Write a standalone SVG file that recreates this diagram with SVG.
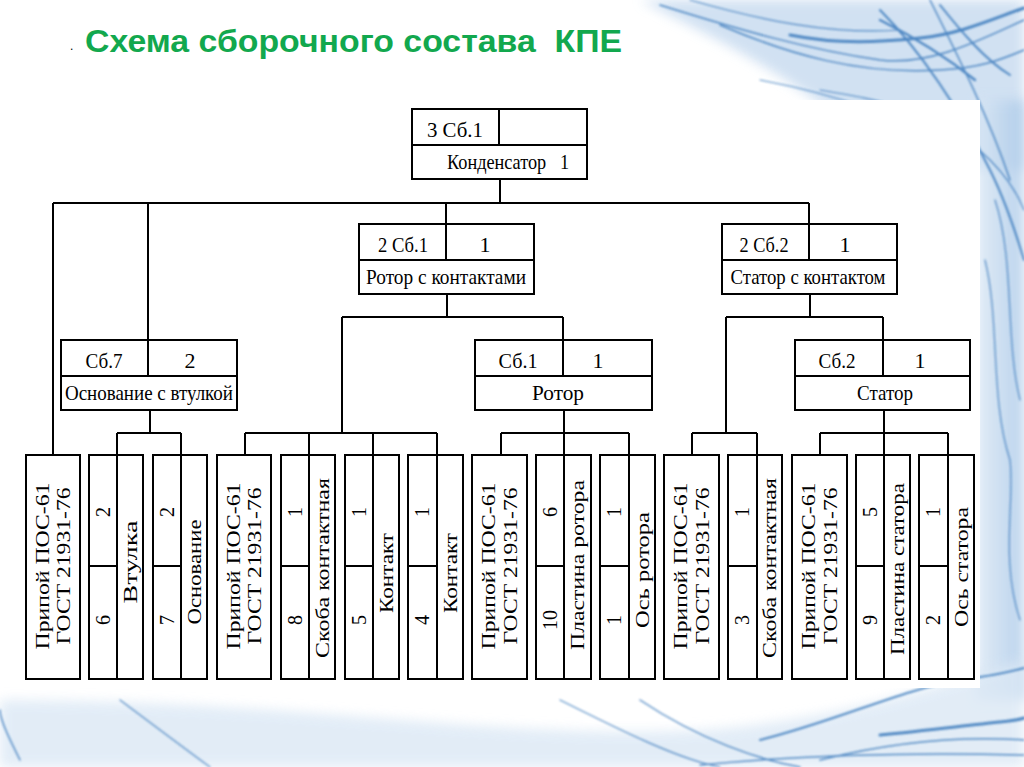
<svg xmlns="http://www.w3.org/2000/svg" width="1024" height="767" viewBox="0 0 1024 767">
<defs>
<style>
.b{fill:#fff;stroke:#000;stroke-width:2}
.l{fill:none;stroke:#000;stroke-width:2}
.t{font-family:"Liberation Serif","Times New Roman",serif;font-size:22px;fill:#000;text-anchor:middle}
.r{font-family:"Liberation Serif","Times New Roman",serif;font-size:19px;fill:#000;text-anchor:middle;dominant-baseline:central}
.n{font-family:"Liberation Serif","Times New Roman",serif;font-size:20px;fill:#000;text-anchor:middle;dominant-baseline:central}
.w{fill:none;stroke:#2f72b8;stroke-linecap:round}
</style>
<filter id="bl" x="-10%" y="-10%" width="120%" height="120%"><feGaussianBlur stdDeviation="1.2"/></filter>
<filter id="bl2" x="-20%" y="-20%" width="140%" height="140%"><feGaussianBlur stdDeviation="6"/></filter>
<linearGradient id="rg" x1="0" y1="0" x2="1" y2="0"><stop offset="0" stop-color="#dbe8f5"/><stop offset="1" stop-color="#a9c8e8"/></linearGradient>
</defs>
<rect width="1024" height="767" fill="#fff"/>
<g id="background">
<path d="M640,0 C720,40 820,90 900,170 L1024,170 L1024,0 Z" fill="#c9dcf0" filter="url(#bl2)" opacity="0.85"/>
<rect x="976" y="100" width="48" height="600" fill="url(#rg)" filter="url(#bl2)" opacity="0.8"/>
<path d="M0,767 L0,700 C300,700 500,740 700,730 C850,720 950,680 1024,660 L1024,767 Z" fill="#dbe8f5" filter="url(#bl2)" opacity="0.8"/>
<g filter="url(#bl)" opacity="0.8">
<path class="w" stroke-width="1.5" d="M660,5 C740,30 810,50 880,60 C930,66 980,40 1024,20"/>
<path class="w" stroke-width="3" stroke="#1c4677" d="M790,35 C840,45 880,42 920,38 C960,34 990,20 1024,8"/>
<path class="w" stroke-width="2.5" stroke="#1c4677" d="M880,20 C920,40 950,60 975,80"/>
<path class="w" stroke-width="2" stroke="#24558f" d="M940,5 C960,30 985,60 1010,75"/>
<path class="w" stroke-width="1.5" d="M720,25 C790,55 860,75 940,70 C980,68 1000,60 1024,50"/>
<path class="w" stroke-width="1.2" d="M690,0 C760,20 830,35 900,30"/>
<path class="w" stroke-width="2" d="M880,10 C920,50 960,110 990,170 C1005,200 1015,230 1024,260"/>
<path class="w" stroke-width="1.5" d="M930,0 C960,60 990,120 1010,180"/>
<path class="w" stroke-width="1.2" d="M820,90 C880,100 940,110 990,160 C1010,180 1020,200 1024,210"/>
<path class="w" stroke-width="1.2" d="M760,80 C840,95 910,120 960,150"/>
<path class="w" stroke-width="1.2" d="M985,260 C1000,320 990,400 1010,460 C1015,500 1000,560 1020,620"/>
<path class="w" stroke-width="1.2" d="M995,200 C1015,260 1005,340 1020,400"/>
<path class="w" stroke-width="1.5" d="M20,760 C10,740 0,720 0,710"/>
<path class="w" stroke-width="1.2" d="M120,700 C160,730 200,760 210,767"/>
<path class="w" stroke-width="1.2" d="M560,700 C620,730 680,760 720,767"/>
<path class="w" stroke-width="1.5" d="M640,700 C700,740 760,760 800,767"/>
<path class="w" stroke-width="2" d="M760,740 C840,720 900,690 960,680 C990,676 1010,672 1024,668"/>
<path class="w" stroke-width="3" stroke="#1c4677" d="M880,735 C930,730 970,725 1000,722 C1010,721 1018,720 1024,718"/>
<path class="w" stroke-width="1.5" d="M820,760 C880,745 950,735 1024,740"/>
<path class="w" stroke-width="1.5" d="M700,765 C800,755 900,752 1024,755"/>
</g>
</g>
<rect id="panel" x="18" y="100" width="962" height="588" fill="#fff"/>
<g id="title">
<text x="70" y="50" font-family="Liberation Sans, Arial, sans-serif" font-size="12" fill="#000">.</text>
<text x="85" y="52" font-family="Liberation Sans, Arial, sans-serif" font-size="31" font-weight="bold" fill="#12a84e" textLength="537" lengthAdjust="spacingAndGlyphs" xml:space="preserve">Схема сборочного состава  КПЕ</text>
</g>
<g id="connectors" class="l">
<path class="l" d="M500,179V203M53,203H809M53,203V455M148,203V340M446,203V224M809,203V224"/>
<path class="l" d="M447,294V317M342,317H563M342,317V433M563,317V340"/>
<path class="l" d="M810,294V317M726,317H883M726,317V433M883,317V340"/>
<path class="l" d="M150,410V433M117,433H181M117,433V455M181,433V455"/>
<path class="l" d="M245,433H437M245,433V455M309,433V455M373,433V455M437,433V455"/>
<path class="l" d="M564,410V433M501,433H629M501,433V455M564,433V455M629,433V455"/>
<path class="l" d="M692,433H757M692,433V455M757,433V455"/>
<path class="l" d="M884,410V433M820,433H948M820,433V455M884,433V455M948,433V455"/>
</g>
<g id="n-kondensator">
<rect class="b" x="412" y="109" width="175" height="70"/>
<path class="l" d="M412,145H587M499,109V145"/>
<text class="t" x="455" y="137" textLength="56" lengthAdjust="spacingAndGlyphs">3 Сб.1</text>
<text class="t" x="447" y="169" style="text-anchor:start" textLength="122" lengthAdjust="spacingAndGlyphs" xml:space="preserve">Конденсатор   1</text>
</g>
<g id="n-rotor-kont">
<rect class="b" x="359" y="224" width="175" height="70"/>
<path class="l" d="M359,260H534M446,224V260"/>
<text class="t" x="403" y="252" textLength="50" lengthAdjust="spacingAndGlyphs">2 Сб.1</text>
<text class="t" x="485" y="252">1</text>
<text class="t" x="446" y="284" textLength="160" lengthAdjust="spacingAndGlyphs">Ротор с контактами</text>
</g>
<g id="n-stator-kont">
<rect class="b" x="722" y="224" width="175" height="70"/>
<path class="l" d="M722,260H897M809,224V260"/>
<text class="t" x="764" y="252" textLength="49" lengthAdjust="spacingAndGlyphs">2 Сб.2</text>
<text class="t" x="845" y="252">1</text>
<text class="t" x="808" y="284" textLength="155" lengthAdjust="spacingAndGlyphs">Статор с контактом</text>
</g>
<g id="n-osnovanie">
<rect class="b" x="61" y="340" width="176" height="70"/>
<path class="l" d="M61,376H237M148,340V376"/>
<text class="t" x="104" y="368" textLength="37" lengthAdjust="spacingAndGlyphs">Сб.7</text>
<text class="t" x="190" y="368">2</text>
<text class="t" x="149" y="400" textLength="168" lengthAdjust="spacingAndGlyphs">Основание с втулкой</text>
</g>
<g id="n-rotor">
<rect class="b" x="475" y="340" width="177" height="70"/>
<path class="l" d="M475,376H652M563,340V376"/>
<text class="t" x="518" y="368" textLength="39" lengthAdjust="spacingAndGlyphs">Сб.1</text>
<text class="t" x="598" y="368">1</text>
<text class="t" x="558" y="400" textLength="52" lengthAdjust="spacingAndGlyphs">Ротор</text>
</g>
<g id="n-stator">
<rect class="b" x="795" y="340" width="175" height="70"/>
<path class="l" d="M795,376H970M883,340V376"/>
<text class="t" x="837" y="368" textLength="37" lengthAdjust="spacingAndGlyphs">Сб.2</text>
<text class="t" x="920" y="368">1</text>
<text class="t" x="885" y="400" textLength="56" lengthAdjust="spacingAndGlyphs">Статор</text>
</g>
<g id="c1">
<rect class="b" x="26" y="455" width="54" height="224"/>
<text class="r" transform="translate(42,566) rotate(-90)" textLength="167" lengthAdjust="spacingAndGlyphs">Припой ПОС-61</text>
<text class="r" transform="translate(63,566) rotate(-90)" textLength="157" lengthAdjust="spacingAndGlyphs">ГОСТ 21931-76</text>
</g>
<g id="c2">
<rect class="b" x="89" y="455" width="54" height="224"/>
<path class="l" d="M117,455V679M89,566H117"/>
<text class="n" transform="translate(103,512) rotate(-90)">2</text>
<text class="n" transform="translate(103,620) rotate(-90)">6</text>
<text class="r" transform="translate(130,562) rotate(-90)" textLength="83" lengthAdjust="spacingAndGlyphs">Втулка</text>
</g>
<g id="c3">
<rect class="b" x="153" y="455" width="54" height="224"/>
<path class="l" d="M181,455V679M153,566H181"/>
<text class="n" transform="translate(167,512) rotate(-90)">2</text>
<text class="n" transform="translate(167,620) rotate(-90)">7</text>
<text class="r" transform="translate(194,572) rotate(-90)" textLength="105" lengthAdjust="spacingAndGlyphs">Основание</text>
</g>
<g id="c4">
<rect class="b" x="217" y="455" width="54" height="224"/>
<text class="r" transform="translate(233,566) rotate(-90)" textLength="167" lengthAdjust="spacingAndGlyphs">Припой ПОС-61</text>
<text class="r" transform="translate(254,566) rotate(-90)" textLength="157" lengthAdjust="spacingAndGlyphs">ГОСТ 21931-76</text>
</g>
<g id="c5">
<rect class="b" x="281" y="455" width="54" height="224"/>
<path class="l" d="M309,455V679M281,566H309"/>
<text class="n" transform="translate(295,512) rotate(-90)">1</text>
<text class="n" transform="translate(295,620) rotate(-90)">8</text>
<text class="r" transform="translate(322,568) rotate(-90)" textLength="180" lengthAdjust="spacingAndGlyphs">Скоба контактная</text>
</g>
<g id="c6">
<rect class="b" x="345" y="455" width="54" height="224"/>
<path class="l" d="M373,455V679M345,566H373"/>
<text class="n" transform="translate(359,512) rotate(-90)">1</text>
<text class="n" transform="translate(359,620) rotate(-90)">5</text>
<text class="r" transform="translate(386,573) rotate(-90)" textLength="80" lengthAdjust="spacingAndGlyphs">Контакт</text>
</g>
<g id="c7">
<rect class="b" x="408" y="455" width="55" height="224"/>
<path class="l" d="M437,455V679M408,566H437"/>
<text class="n" transform="translate(422,512) rotate(-90)">1</text>
<text class="n" transform="translate(422,620) rotate(-90)">4</text>
<text class="r" transform="translate(450,573) rotate(-90)" textLength="80" lengthAdjust="spacingAndGlyphs">Контакт</text>
</g>
<g id="c8">
<rect class="b" x="472" y="455" width="55" height="224"/>
<text class="r" transform="translate(488,566) rotate(-90)" textLength="167" lengthAdjust="spacingAndGlyphs">Припой ПОС-61</text>
<text class="r" transform="translate(510,566) rotate(-90)" textLength="157" lengthAdjust="spacingAndGlyphs">ГОСТ 21931-76</text>
</g>
<g id="c9">
<rect class="b" x="536" y="455" width="55" height="224"/>
<path class="l" d="M564,455V679M536,566H564"/>
<text class="n" transform="translate(550,512) rotate(-90)">6</text>
<text class="n" transform="translate(550,620) rotate(-90)">10</text>
<text class="r" transform="translate(577,565) rotate(-90)" textLength="170" lengthAdjust="spacingAndGlyphs">Пластина ротора</text>
</g>
<g id="c10">
<rect class="b" x="600" y="455" width="55" height="224"/>
<path class="l" d="M629,455V679M600,566H629"/>
<text class="n" transform="translate(614,512) rotate(-90)">1</text>
<text class="n" transform="translate(614,620) rotate(-90)">1</text>
<text class="r" transform="translate(642,570) rotate(-90)" textLength="116" lengthAdjust="spacingAndGlyphs">Ось ротора</text>
</g>
<g id="c11">
<rect class="b" x="664" y="455" width="55" height="224"/>
<text class="r" transform="translate(680,566) rotate(-90)" textLength="167" lengthAdjust="spacingAndGlyphs">Припой ПОС-61</text>
<text class="r" transform="translate(702,566) rotate(-90)" textLength="157" lengthAdjust="spacingAndGlyphs">ГОСТ 21931-76</text>
</g>
<g id="c12">
<rect class="b" x="728" y="455" width="54" height="224"/>
<path class="l" d="M757,455V679M728,566H757"/>
<text class="n" transform="translate(742,512) rotate(-90)">1</text>
<text class="n" transform="translate(742,620) rotate(-90)">3</text>
<text class="r" transform="translate(769,568) rotate(-90)" textLength="180" lengthAdjust="spacingAndGlyphs">Скоба контактная</text>
</g>
<g id="c13">
<rect class="b" x="792" y="455" width="55" height="224"/>
<text class="r" transform="translate(808,566) rotate(-90)" textLength="167" lengthAdjust="spacingAndGlyphs">Припой ПОС-61</text>
<text class="r" transform="translate(830,566) rotate(-90)" textLength="157" lengthAdjust="spacingAndGlyphs">ГОСТ 21931-76</text>
</g>
<g id="c14">
<rect class="b" x="856" y="455" width="54" height="224"/>
<path class="l" d="M884,455V679M856,566H884"/>
<text class="n" transform="translate(870,512) rotate(-90)">5</text>
<text class="n" transform="translate(870,620) rotate(-90)">9</text>
<text class="r" transform="translate(897,569) rotate(-90)" textLength="172" lengthAdjust="spacingAndGlyphs">Пластина статора</text>
</g>
<g id="c15">
<rect class="b" x="919" y="455" width="55" height="224"/>
<path class="l" d="M948,455V679M919,566H948"/>
<text class="n" transform="translate(933,512) rotate(-90)">1</text>
<text class="n" transform="translate(933,620) rotate(-90)">2</text>
<text class="r" transform="translate(961,567) rotate(-90)" textLength="120" lengthAdjust="spacingAndGlyphs">Ось статора</text>
</g>
</svg>
